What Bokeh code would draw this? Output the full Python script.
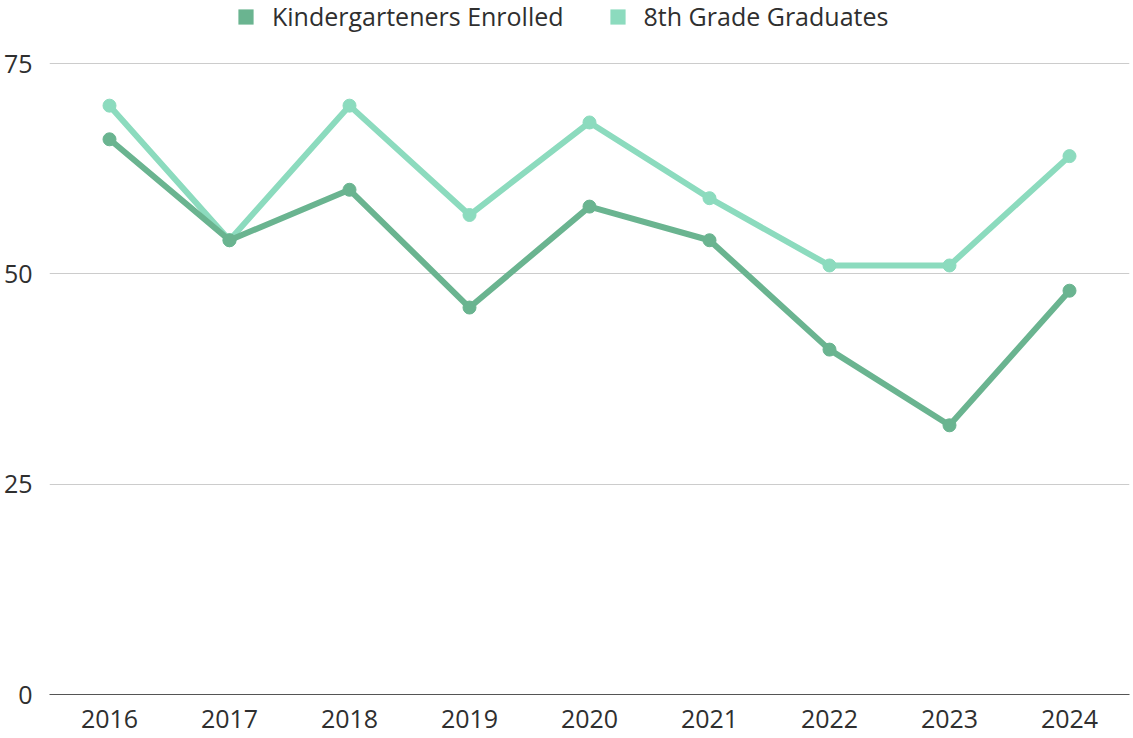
from bokeh.plotting import figure
from bokeh.models import Legend, LegendItem, FixedTicker, Range1d, FactorRange
from bokeh.embed import file_html
from bokeh.resources import INLINE

years = ["2016", "2017", "2018", "2019", "2020", "2021", "2022", "2023", "2024"]
kinder = [66, 54, 60, 46, 58, 54, 41, 32, 48]
grads = [70, 54, 70, 57, 68, 59, 51, 51, 64]
y_ticks = [0, 25, 50, 75]

KC = "#6ab490"
GC = "#8cdbbe"
FONT = "Open Sans"
TXT = "#2f2f2f"

p = figure(width=1133, height=738, x_range=FactorRange(*years, range_padding=0),
           y_range=Range1d(0, 82.5), output_backend="svg", toolbar_location=None,
           min_border_left=48, min_border_right=4, min_border_top=0, min_border_bottom=44)

p.line(years, grads, line_width=6, color=GC)
p.scatter(years, grads, size=13, color=GC)
p.line(years, kinder, line_width=6, color=KC)
p.scatter(years, kinder, size=13, color=KC)

# zero-size proxies so the legend shows filled squares
lk = p.rect(x=years, y=kinder, width=0, height=0, fill_color=KC, line_color=None)
lg = p.rect(x=years, y=grads, width=0, height=0, fill_color=GC, line_color=None)

legend = Legend(items=[LegendItem(label="Kindergarteners Enrolled", renderers=[lk]),
                       LegendItem(label="8th Grade Graduates", renderers=[lg])],
                orientation="horizontal", location=(187, 661),
                border_line_color=None, background_fill_alpha=0,
                label_text_font=FONT, label_text_font_size="25px", label_text_color=TXT,
                glyph_width=19, glyph_height=19, spacing=44, label_standoff=17, padding=0, margin=0)
p.add_layout(legend, "center")

p.outline_line_color = None
p.xgrid.grid_line_color = None
p.ygrid.grid_line_color = "#cccccc"
p.ygrid.grid_line_width = 1.2
p.yaxis.ticker = FixedTicker(ticks=y_ticks)
p.yaxis.axis_line_color = None
p.yaxis.major_tick_line_color = None
p.yaxis.minor_tick_line_color = None
p.yaxis.major_tick_out = 0
p.yaxis.major_tick_in = 0
p.yaxis.minor_tick_out = 0
p.yaxis.major_label_text_font = FONT
p.yaxis.major_label_text_font_size = "25px"
p.yaxis.major_label_text_color = TXT
p.yaxis.major_label_standoff = 17

p.xaxis.axis_line_color = "#555555"
p.xaxis.axis_line_width = 1.2
p.xaxis.major_tick_line_color = None
p.xaxis.minor_tick_line_color = None
p.xaxis.major_tick_out = 0
p.xaxis.major_tick_in = 0
p.xaxis.major_label_text_font = FONT
p.xaxis.major_label_text_font_size = "25px"
p.xaxis.major_label_text_color = TXT
p.xaxis.major_label_standoff = 15

open("out.html", "w").write(file_html(p, INLINE))
